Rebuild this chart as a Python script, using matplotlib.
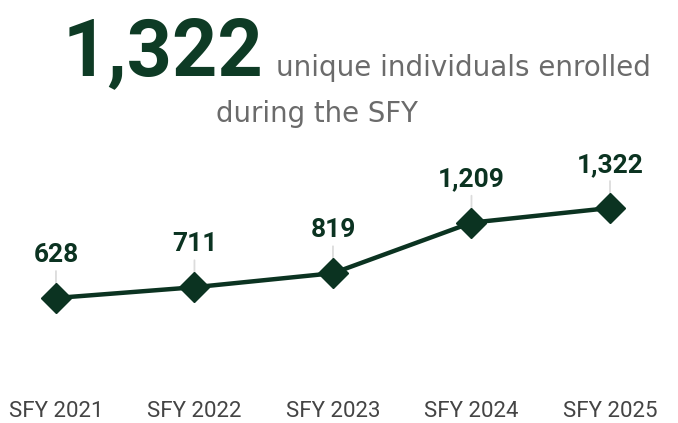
import matplotlib
matplotlib.use("Agg")
import matplotlib.pyplot as plt

# ── data ──────────────────────────────────────
years  = ["SFY 2021", "SFY 2022", "SFY 2023", "SFY 2024", "SFY 2025"]
values = [628, 711, 819, 1209, 1322]
labels = ["628", "711", "819", "1,209", "1,322"]

headline_num  = "1,322"
headline_txt1 = "unique individuals enrolled"
headline_txt2 = "during the SFY"

# ── style ─────────────────────────────────────
GREEN  = "#0b3321"
TITLE_GREEN = "#0e3b25"
GREY   = "#6b6b6b"
TICK   = "#444444"
LEADER = "#dcdcdc"

W, H = 678, 423
fig = plt.figure(figsize=(W / 100, H / 100), dpi=100)
ax = fig.add_axes([0, 0, 1, 1])
ax.set_axis_off()

xs = list(range(len(values)))
ax.plot(xs, values, color=GREEN, lw=3.2, marker="D", ms=15.5,
        markerfacecolor=GREEN, markeredgecolor=GREEN, zorder=3)

for x, v, lab in zip(xs, values, labels):
    ax.annotate(lab, xy=(x, v), xytext=(0, 26), textcoords="offset points",
                ha="center", va="baseline", fontsize=19, fontweight="bold",
                family="Roboto", color=GREEN, zorder=1,
                arrowprops=dict(arrowstyle="-", color=LEADER, lw=1.3,
                                shrinkA=1, shrinkB=0))

# category labels along the bottom
for x, yr in zip(xs, years):
    ax.text(x, (H - 417) / H, yr, transform=ax.get_xaxis_transform(),
            ha="center", va="baseline", fontsize=16, family="Roboto",
            color=TICK)

ax.set_xlim(-0.404, 4.491)
ax.set_ylim(-336, 2926)

# headline
fig.text(63 / W, 1 - 75 / H, headline_num, fontsize=57, fontweight="bold",
         family="Roboto", color=TITLE_GREEN, va="baseline")
fig.text(276 / W, 1 - 76 / H, headline_txt1, fontsize=20,
         family="DejaVu Sans", color=GREY, va="baseline")
fig.text(216 / W, 1 - 122 / H, headline_txt2, fontsize=19.8,
         family="DejaVu Sans", color=GREY, va="baseline")

fig.savefig("out.png", dpi=100)
